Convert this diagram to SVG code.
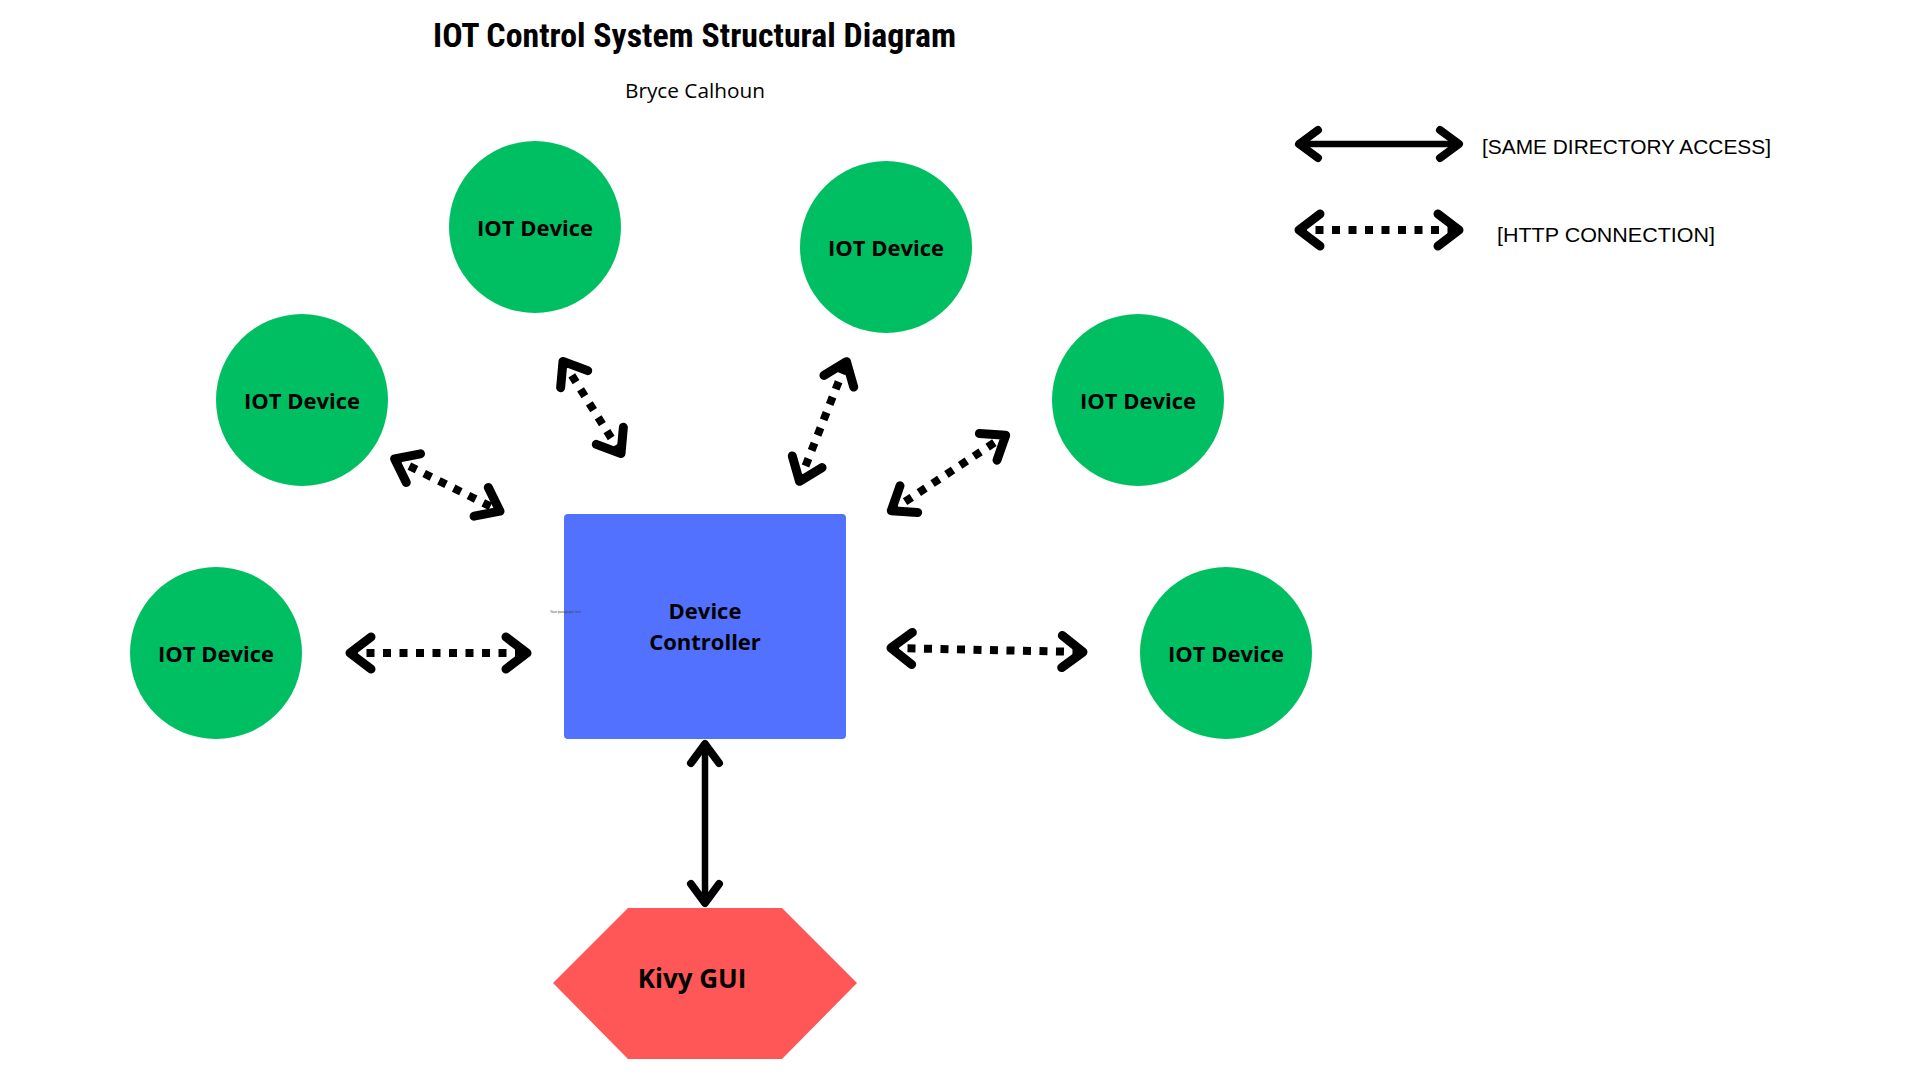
<svg xmlns="http://www.w3.org/2000/svg" width="1920" height="1080" viewBox="0 0 1920 1080">
<style>
.dev{fill:#00BF63}
.lbl{font-family:"Open Sans","Noto Sans",sans-serif;font-weight:700;font-size:22px;fill:#000;text-anchor:middle}
.conn{fill:none;stroke:#000;stroke-linecap:butt}
.dot{stroke-width:8;stroke-dasharray:8 8.5;marker-start:url(#chevD);marker-end:url(#chevD)}
.solid{stroke-width:6.5;marker-start:url(#chevS);marker-end:url(#chevS)}
.leg{font-family:"Liberation Sans","Open Sans",sans-serif;font-size:21px;fill:#000}
</style>
<defs>
<marker id="chevD" markerUnits="userSpaceOnUse" markerWidth="80" markerHeight="80" viewBox="-40 -40 80 80" refX="0" refY="0" orient="auto-start-reverse" overflow="visible">
<path d="M -21 -16 L 0 0 L -21 16" fill="none" stroke="#000" stroke-width="9" stroke-linecap="round" stroke-linejoin="round" stroke-dasharray="none"/>
</marker>
<marker id="chevS" markerUnits="userSpaceOnUse" markerWidth="80" markerHeight="80" viewBox="-40 -40 80 80" refX="0" refY="0" orient="auto-start-reverse" overflow="visible">
<path d="M -19 -14 L 0 0 L -19 14" fill="none" stroke="#000" stroke-width="8" stroke-linecap="round" stroke-linejoin="round" stroke-dasharray="none"/>
</marker>
</defs>
<rect width="1920" height="1080" fill="#fff"/>

<g id="title">
<text x="433" y="47" textLength="523" lengthAdjust="spacingAndGlyphs" style="font-family:'Liberation Sans Narrow','Roboto Condensed','Liberation Sans',sans-serif;font-weight:700;font-size:33px">IOT Control System Structural Diagram</text>
<text x="625" y="98" textLength="140" lengthAdjust="spacingAndGlyphs" style="font-family:'Open Sans','Liberation Sans',sans-serif;font-size:20px">Bryce Calhoun</text>
</g>

<g id="legend">
<line class="conn solid" x1="1299" y1="144" x2="1459" y2="144"/>
<text class="leg" x="1482" y="154" textLength="289" lengthAdjust="spacingAndGlyphs">[SAME DIRECTORY ACCESS]</text>
<line class="conn dot" x1="1299" y1="230" x2="1459" y2="230"/>
<text class="leg" x="1497" y="242" textLength="218" lengthAdjust="spacingAndGlyphs">[HTTP CONNECTION]</text>
</g>

<g id="device-top-left">
<circle class="dev" cx="535" cy="227" r="86"/>
<text class="lbl" x="535" y="236">IOT Device</text>
</g>
<g id="device-top-right">
<circle class="dev" cx="886" cy="247" r="86"/>
<text class="lbl" x="886" y="256">IOT Device</text>
</g>
<g id="device-mid-left">
<circle class="dev" cx="302" cy="400" r="86"/>
<text class="lbl" x="302" y="409">IOT Device</text>
</g>
<g id="device-mid-right">
<circle class="dev" cx="1138" cy="400" r="86"/>
<text class="lbl" x="1138" y="409">IOT Device</text>
</g>
<g id="device-bottom-left">
<circle class="dev" cx="216" cy="653" r="86"/>
<text class="lbl" x="216" y="662">IOT Device</text>
</g>
<g id="device-bottom-right">
<circle class="dev" cx="1226" cy="653" r="86"/>
<text class="lbl" x="1226" y="662">IOT Device</text>
</g>

<g id="device-controller">
<rect x="564" y="514" width="282" height="225" rx="4" fill="#5271FF"/>
<text class="lbl" x="705" y="619">Device</text>
<text class="lbl" x="705" y="650">Controller</text>
<text x="550" y="613" style="font-family:'Liberation Sans',sans-serif;font-size:3.5px;fill:#444">Your paragraph text</text>
</g>

<g id="kivy-gui">
<polygon points="553,983 628,908 782,908 857,983 782,1059 628,1059" fill="#FF5757"/>
<text class="lbl" x="692" y="988" style="font-size:26px">Kivy GUI</text>
</g>

<g id="connectors">
<line class="conn dot" x1="350" y1="653" x2="527" y2="653"/>
<line class="conn dot" x1="891" y1="648" x2="1083" y2="652"/>
<line class="conn dot" x1="394.6" y1="458.8" x2="500" y2="511.2"/>
<line class="conn dot" x1="563" y1="361.4" x2="621" y2="453.6"/>
<line class="conn dot" x1="799.5" y1="481.3" x2="846.5" y2="361.7"/>
<line class="conn dot" x1="891.3" y1="510.8" x2="1005.7" y2="435.2"/>
<line class="conn solid" x1="705" y1="744" x2="705" y2="903"/>
</g>
</svg>
